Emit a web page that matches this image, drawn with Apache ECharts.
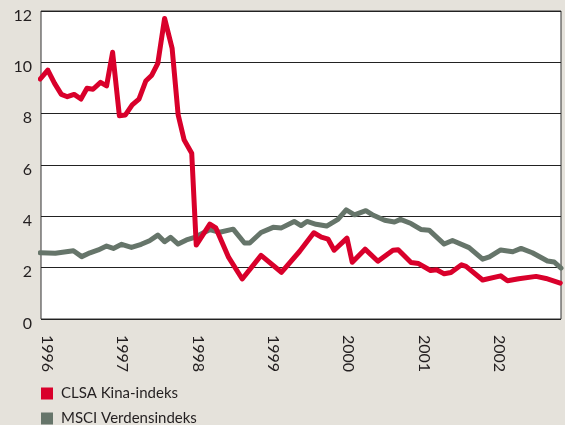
<!DOCTYPE html>
<html>
<head>
<meta charset="utf-8">
<script src="https://cdn.jsdelivr.net/npm/echarts@6/dist/echarts.min.js"></script>
<style>
  html, body { margin: 0; padding: 0; background: #e5e2db; }
  #chart { width: 565px; height: 425px; }
</style>
</head>
<body>
<div id="chart"></div>
<script>
// tidspunkt (desimalår) og verdier lest av figuren
var clsaDates = [1995.91, 1996.01, 1996.10, 1996.19, 1996.27, 1996.36, 1996.45, 1996.53, 1996.61, 1996.71,
  1996.79, 1996.87, 1996.96, 1997.04, 1997.13, 1997.22, 1997.31, 1997.39, 1997.47, 1997.56,
  1997.66, 1997.74, 1997.82, 1997.92, 1997.98, 1998.16, 1998.24, 1998.41, 1998.59, 1998.84,
  1999.11, 1999.35, 1999.54, 1999.64, 1999.73, 1999.81, 1999.98, 2000.05, 2000.22, 2000.39,
  2000.59, 2000.66, 2000.83, 2000.93, 2001.09, 2001.17, 2001.27, 2001.36, 2001.50, 2001.56,
  2001.78, 2002.02, 2002.11, 2002.26, 2002.49, 2002.62, 2002.81];
var clsaValues = [9.35, 9.70, 9.18, 8.75, 8.66, 8.75, 8.57, 8.99, 8.95, 9.22,
  9.08, 10.39, 7.92, 7.95, 8.34, 8.57, 9.27, 9.50, 9.96, 11.71,
  10.54, 7.95, 6.97, 6.46, 2.88, 3.70, 3.55, 2.40, 1.56, 2.48,
  1.82, 2.63, 3.36, 3.19, 3.11, 2.68, 3.15, 2.21, 2.72, 2.25,
  2.68, 2.70, 2.20, 2.16, 1.89, 1.92, 1.76, 1.81, 2.11, 2.05,
  1.52, 1.68, 1.49, 1.57, 1.66, 1.58, 1.40];

var msciDates = [1995.91, 1996.11, 1996.35, 1996.46, 1996.57, 1996.68, 1996.79, 1996.88, 1996.99, 1997.12,
  1997.25, 1997.36, 1997.47, 1997.56, 1997.64, 1997.74, 1997.85, 1997.96, 1998.07, 1998.16,
  1998.29, 1998.47, 1998.62, 1998.69, 1998.84, 1999.00, 1999.11, 1999.28, 1999.37, 1999.45,
  1999.57, 1999.71, 1999.86, 1999.97, 2000.08, 2000.23, 2000.33, 2000.48, 2000.61, 2000.69,
  2000.83, 2000.96, 2001.07, 2001.27, 2001.38, 2001.60, 2001.78, 2001.87, 2002.02, 2002.18,
  2002.29, 2002.44, 2002.64, 2002.73, 2002.82];
var msciValues = [2.58, 2.56, 2.66, 2.43, 2.58, 2.69, 2.84, 2.75, 2.91, 2.79,
  2.91, 3.05, 3.27, 3.01, 3.18, 2.92, 3.08, 3.18, 3.35, 3.48,
  3.38, 3.50, 2.96, 2.96, 3.37, 3.57, 3.55, 3.80, 3.64, 3.80,
  3.69, 3.62, 3.88, 4.25, 4.06, 4.22, 4.04, 3.85, 3.78, 3.88,
  3.72, 3.49, 3.46, 2.92, 3.06, 2.78, 2.33, 2.42, 2.69, 2.62,
  2.75, 2.58, 2.26, 2.22, 1.98];

var yearTicks = [1996, 1997, 1998, 1999, 2000, 2001, 2002];
var seriesNames = ['CLSA Kina-indeks', 'MSCI Verdensindeks'];

function pairs(xs, ys) {
  return xs.map(function (x, i) { return [x, ys[i]]; });
}

var font = 'Lato, "Open Sans", sans-serif';
var chart = echarts.init(document.getElementById('chart'), null, { renderer: 'canvas' });

// én legend per rad, så de ligger under hverandre
function legendRow(name, top) {
  return {
    orient: 'vertical',
    left: 41, top: top, padding: 0,
    itemWidth: 12, itemHeight: 12,
    icon: 'rect',
    data: [name],
    textStyle: { fontFamily: font, fontSize: 15, color: '#231f20', padding: [0, 0, 0, 3] }
  };
}

chart.setOption({
  backgroundColor: '#e5e2db',
  animation: false,
  grid: {
    left: 41, right: 4, top: 11, bottom: 106,
    show: true, backgroundColor: '#ffffff',
    borderColor: '#333333', borderWidth: 1
  },
  legend: [legendRow(seriesNames[0], 386), legendRow(seriesNames[1], 411)],
  xAxis: {
    type: 'value',
    min: 1995.92, max: 2002.82,
    axisLine: { show: false },
    axisTick: { show: false },
    splitLine: { show: false },
    axisLabel: {
      customValues: yearTicks,
      rotate: -90,
      margin: 16,
      fontFamily: font, fontSize: 16, color: '#231f20',
      formatter: function (v) { return String(v); }
    }
  },
  yAxis: {
    type: 'value',
    min: 0, max: 12, interval: 2,
    axisLine: { show: false },
    axisTick: { show: false },
    splitLine: { lineStyle: { color: '#222222', width: 1 } },
    axisLabel: {
      margin: 9,
      verticalAlign: 'top',
      lineHeight: 9,
      fontFamily: font, fontSize: 16, color: '#231f20'
    }
  },
  series: [
    {
      name: seriesNames[1],
      type: 'line',
      data: pairs(msciDates, msciValues),
      showSymbol: false,
      color: '#66756a',
      lineStyle: { width: 5, color: '#66756a', join: 'round', cap: 'round' },
      z: 2
    },
    {
      name: seriesNames[0],
      type: 'line',
      data: pairs(clsaDates, clsaValues),
      showSymbol: false,
      color: '#d9002b',
      lineStyle: { width: 5, color: '#d9002b', join: 'round', cap: 'round' },
      z: 3
    }
  ]
});
</script>
</body>
</html>
